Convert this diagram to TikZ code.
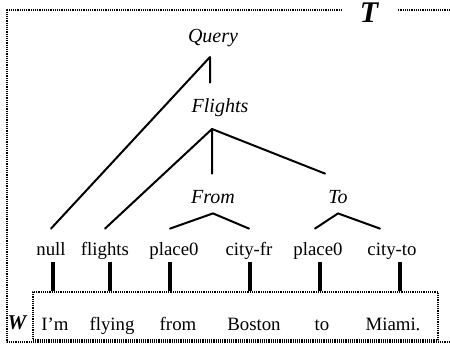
\documentclass[tikz,border=0pt]{standalone}
\usepackage{fontspec}
\setmainfont{Liberation Serif}
\usetikzlibrary{positioning,calc}
\tikzset{
    every picture/.style={line cap=round,line join=round},
    treelabel/.style={font=\fontsize{10}{12}\selectfont\itshape,inner sep=0pt,
      anchor=base,text height=14.5pt,text depth=5pt},
    leaf/.style={font=\fontsize{9.4}{11}\selectfont,inner sep=0pt,
      anchor=base,text height=13pt,text depth=3.5pt},
    word/.style={font=\fontsize{9.4}{11}\selectfont,inner sep=0pt,anchor=base},
    treeline/.style={draw=black,line width=1pt},
    linkbar/.style={draw=black,line width=2pt,line cap=butt},
    dotbox/.style={draw=black,line cap=butt,dash pattern=on 0.6pt off 0.5pt,line width=0.9pt},
    boxtag/.style={font=\bfseries\itshape,inner sep=0pt}
}
\begin{document}
\begin{tikzpicture}[x=0.5pt,y=-0.5pt]
  \useasboundingbox (0,0) rectangle (450,345);
  \draw[dotbox] (450,10) -- (398,10);
  \draw[dotbox] (342,10) -- (7,10) -- (7,342) -- (450,342);
  \node[boxtag,font=\fontsize{15}{16}\selectfont\bfseries\itshape] (ttag) at (369,13) {T};
  \node[dotbox,minimum width=202.5pt,minimum height=24pt,inner sep=0pt] (wbox) at (235.5,316) {};
  \node[boxtag,font=\fontsize{10.5}{11}\selectfont\bfseries\itshape] (wtag) at (17,323) {W};
  \node[treelabel] (q) at (213,42) {Query};
  \node[treelabel] (fl) at (220,112) {Flights};
  \node[treelabel] (fr) at (213,203) {From};
  \node[treelabel] (to) at (338,203) {To};
  \coordinate (qa) at (210,57);
  \coordinate (fa) at (212,129);
  \foreach \lab/\wrd/\lx/\bx/\wx [count=\i] in {null/I’m/51/53/55,flights/flying/105/110/112,
      place0/from/174/170/178,city-fr/Boston/249/250/254,place0/to/318/320/322,city-to/Miami./392/400/393}{
    \node[leaf] (l\i) at (\lx,255) {\lab};
    \node[word] (w\i) at (\wx,330) {\wrd};
    \coordinate (b\i) at (\bx,262);
    \draw[linkbar] (b\i) -- (b\i |- wbox.north);}
  \draw[treeline] (l1.north) -- (qa) -- (qa |- fl.north);
  \draw[treeline] (l2.north) -- (fa) -- (fa |- fr.north);
  \draw[treeline] (fa) -- ([xshift=-6.5pt]to.north);
  \draw[treeline] ([xshift=-2pt]l3.north) -- (fr.south) -- (l4.north);
  \draw[treeline] ([xshift=-1.5pt]l5.north) -- (to.south) -- ([xshift=-6pt]l6.north);
\end{tikzpicture}
\end{document}
